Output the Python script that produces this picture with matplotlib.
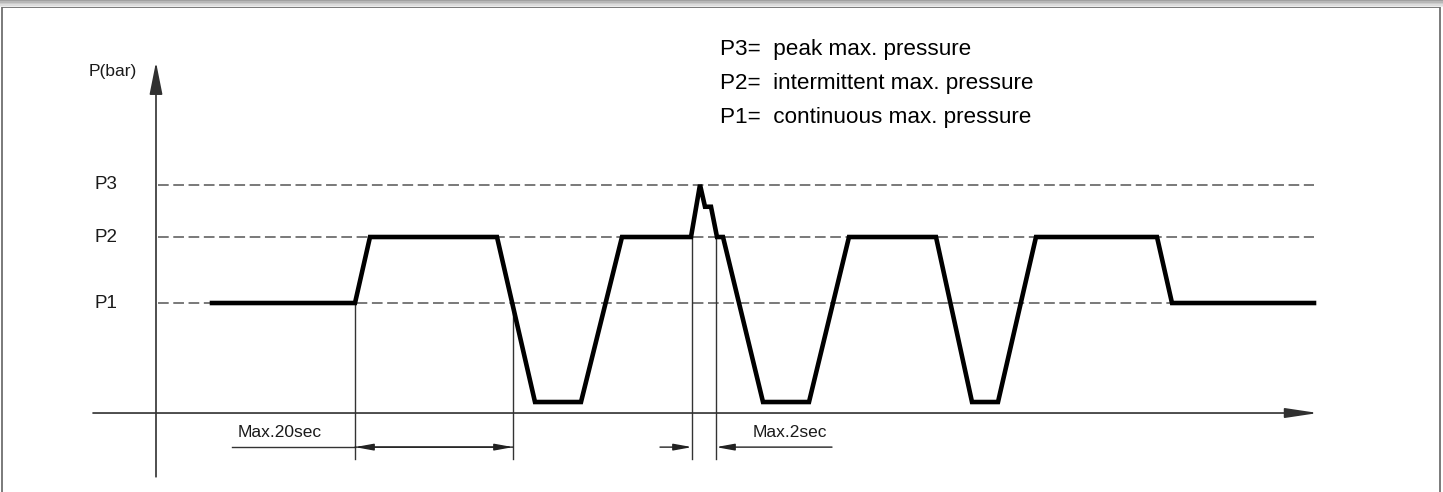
import matplotlib
matplotlib.use('Agg')
import matplotlib.pyplot as plt
from matplotlib.patches import Rectangle

# pressure cycle (time in arbitrary units, pressure in level units; 0 = time axis)
t = [5.6, 19.9, 21.4, 34.1, 37.9, 42.5, 46.6, 53.5, 54.4, 54.9, 55.5, 56.1, 56.7,
     60.7, 65.3, 69.3, 78.0, 81.6, 84.2, 88.0, 100.1, 101.6, 115.8]
p = [200, 200, 320, 320, 20, 20, 320, 320, 415, 375, 375, 320, 320,
     20, 20, 320, 320, 20, 20, 320, 320, 200, 200]

levels = [200, 320, 415]
level_labels = ['P1', 'P2', 'P3']
legend_lines = ['P3=  peak max. pressure',
                'P2=  intermittent max. pressure',
                'P1=  continuous max. pressure']

# marker lines for the time limits
mark_t = [19.9, 35.7, 53.6, 56.0]
mark_top = [200, 200, 320, 320]
mark_bottom = -84
dim_y = -62
dim_text_y = -35

fig = plt.figure(figsize=(14.43, 4.92), dpi=100)
ax = fig.add_axes([0, 0, 1, 1])
ax.set_xlim(-15.6, 128.7)
ax.set_ylim(-143.6, 750.9)
ax.axis('off')

# frame + grey strip at the top
fig.patches.append(Rectangle((0.0015, -0.05), 0.9965, 1.036, transform=fig.transFigure,
                             fill=False, edgecolor='#707070', lw=1.3))
for i, c in enumerate(['#a0a0a0', '#b8b8b8', '#cccccc', '#dddddd', '#ececec']):
    fig.patches.append(Rectangle((0, 1 - (i + 1) * 0.0029), 1, 0.0029,
                                 transform=fig.transFigure, color=c, lw=0))

narrow = ['Liberation Sans', 'DejaVu Sans']
head = '-|>,head_length=1.1,head_width=0.2'

# axes with arrows
ax.annotate('', xy=(0, 638), xytext=(0, -116),
            arrowprops=dict(arrowstyle='-|>,head_length=2.0,head_width=0.4',
                            lw=1.2, color='#303030', shrinkA=0, shrinkB=0))
ax.annotate('', xy=(116.2, 0), xytext=(-6.3, 0),
            arrowprops=dict(arrowstyle='-|>,head_length=2.0,head_width=0.3',
                            lw=1.2, color='#303030', shrinkA=0, shrinkB=0))
ax.text(-1.9, 620, 'P(bar)', ha='right', va='center', fontsize=12.5, family=narrow, color='#1a1a1a')

# dashed pressure levels
for lv, lab in zip(levels, level_labels):
    ax.plot([0.2, 115.8], [lv, lv], color='#555555', lw=1.1, dashes=(7, 3))
    ax.text(-6.1, lv, lab, ha='left', va='center', fontsize=13.5, family=narrow, color='#1a1a1a')

# thin marker lines
for x, top in zip(mark_t, mark_top):
    ax.plot([x, x], [top, mark_bottom], color='#333333', lw=1.0)

# pressure curve
ax.plot(t, p, color='black', lw=3.3, solid_joinstyle='miter')

# dimension: Max.20sec
ax.plot([7.6, mark_t[0]], [dim_y, dim_y], color='#333333', lw=1.0)
ax.annotate('', xy=(mark_t[0], dim_y), xytext=(mark_t[1], dim_y),
            arrowprops=dict(arrowstyle=head, lw=1.0, color='#222', shrinkA=0, shrinkB=0))
ax.annotate('', xy=(mark_t[1], dim_y), xytext=(mark_t[0], dim_y),
            arrowprops=dict(arrowstyle=head, lw=1.0, color='#222', shrinkA=0, shrinkB=0))
ax.text(8.2, dim_text_y, 'Max.20sec', ha='left', va='center', fontsize=12.5, family=narrow, color='#1a1a1a')

# dimension: Max.2sec
ax.annotate('', xy=(mark_t[2], dim_y), xytext=(50.4, dim_y),
            arrowprops=dict(arrowstyle=head, lw=1.0, color='#222', shrinkA=0, shrinkB=0))
ax.annotate('', xy=(mark_t[3], dim_y), xytext=(67.6, dim_y),
            arrowprops=dict(arrowstyle=head, lw=1.0, color='#222', shrinkA=0, shrinkB=0))
ax.text(59.7, dim_text_y, 'Max.2sec', ha='left', va='center', fontsize=12.5, family=narrow, color='#1a1a1a')

# legend text
for i, line in enumerate(legend_lines):
    fig.text(720 / 1443, 1 - (50 + i * 33.5) / 492, line, ha='left', va='center',
             fontsize=16.2, family=['Liberation Sans', 'DejaVu Sans'], color='black')

fig.savefig('out.png', dpi=100)
